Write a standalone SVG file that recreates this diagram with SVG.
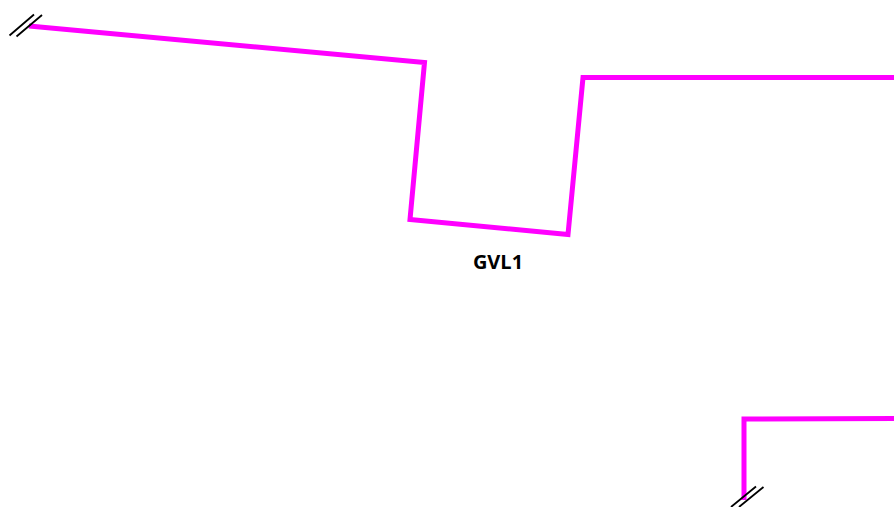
<svg xmlns="http://www.w3.org/2000/svg" width="894" height="507" viewBox="0 0 894 507">
<style>
.wire{fill:none;stroke:#ff00ff;stroke-width:5;stroke-linejoin:miter}
.tick{fill:none;stroke:#000;stroke-width:1.8}
.label{font-family:"Open Sans","Noto Sans",sans-serif;font-weight:700;font-size:20px;fill:#000}
</style>
<rect width="894" height="507" fill="#fff"/>
<g id="connectors">
<polyline class="wire" points="29,26 424.500,62.500 410,219.500 568,234.500 583,77.500 894,77.500"/>
<polyline class="wire" points="744,500 744,419 894,418.500"/>
<path class="tick" d="M9.500,35.500L34,14.500M16.500,36.500L42,15"/>
<path class="tick" d="M731,507L756,486.500M739,507L763.500,487"/>
</g>
<g id="GVL1"><text class="label" x="498" y="269" text-anchor="middle">GVL1</text></g>
</svg>
